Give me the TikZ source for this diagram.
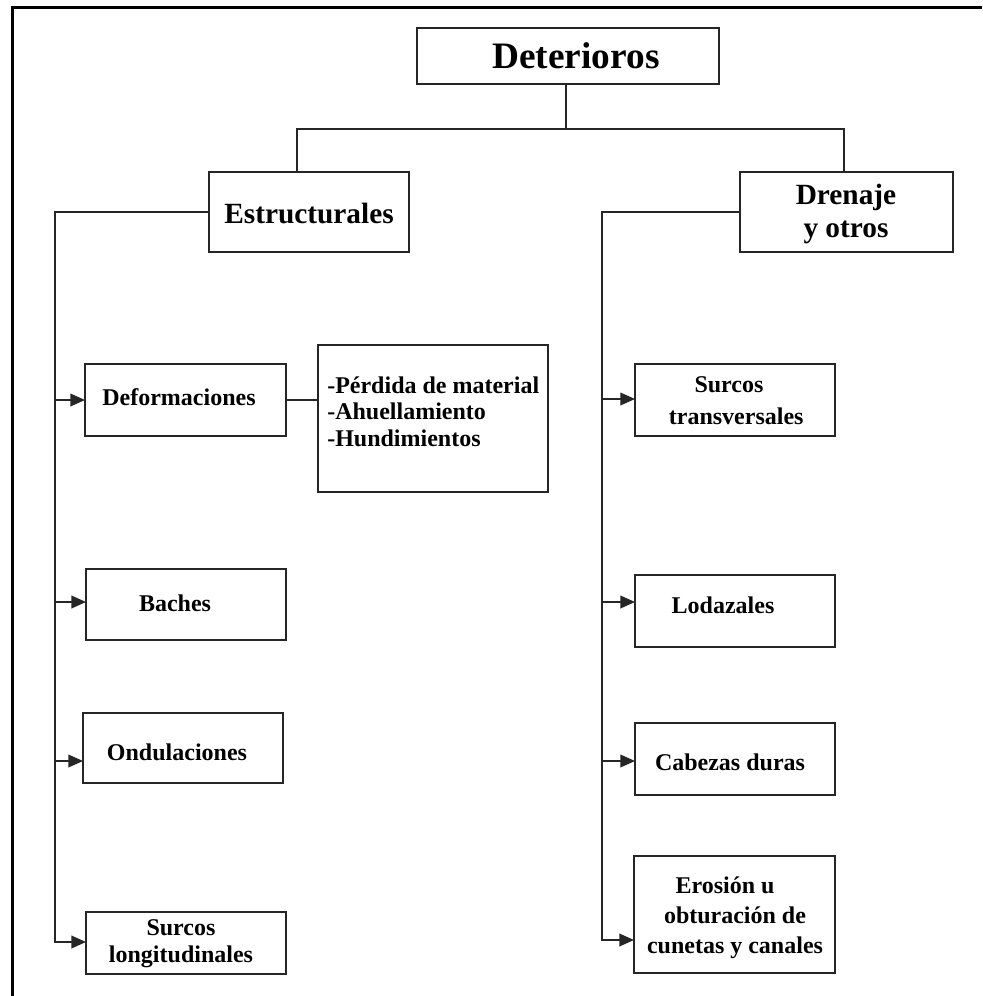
\documentclass[tikz,border=0pt]{standalone}
\usepackage{fontspec}
\setmainfont{Liberation Serif}
\usetikzlibrary{arrows.meta}
\tikzset{
  box/.style={draw=black!85,line width=1.3pt,inner sep=0pt,outer sep=0pt,fill=white},
  lbl/.style={font=\bfseries\fontsize{18}{20}\selectfont,inner sep=0pt,align=center},
  midlbl/.style={font=\bfseries\fontsize{22}{25}\selectfont,inner sep=0pt,align=center},
  toplbl/.style={font=\bfseries\fontsize{28}{32}\selectfont,inner sep=0pt},
  conn/.style={draw=black!85,line width=1.3pt},
  arr/.style={conn,-{Triangle[length=11pt,width=9.5pt]}},
  frame/.style={draw=black,line width=2.3pt}
}
\begin{document}
\begin{tikzpicture}[x=0.75pt,y=-0.75pt]
\useasboundingbox (0,0) rectangle (982,996);
\fill[white] (0,0) rectangle (982,996);
\draw[frame] (12.5,996) -- (12.5,7.5) -- (982,7.5);

% boxes
\node[box,minimum width=226.5pt,minimum height=42pt] (det) at (568,56) {};
\node[box,minimum width=150pt,minimum height=60pt] (estr) at (309,212) {};
\node[box,minimum width=159.75pt,minimum height=60pt] (drn) at (846.5,212) {};
\node[box,minimum width=150.75pt,minimum height=54pt] (deform) at (185.5,400) {};
\node[box,minimum width=172.5pt,minimum height=110.25pt] (list) at (433,418.5) {};
\node[box,minimum width=150pt,minimum height=53.25pt] (baches) at (186,604.5) {};
\node[box,minimum width=150pt,minimum height=52.5pt] (ond) at (183,748) {};
\node[box,minimum width=150pt,minimum height=46.5pt] (surl) at (186,943) {};
\node[box,minimum width=150pt,minimum height=54pt] (surt) at (735,400) {};
\node[box,minimum width=150pt,minimum height=54pt] (lod) at (735,611) {};
\node[box,minimum width=150pt,minimum height=54pt] (cab) at (735,759) {};
\node[box,minimum width=150.75pt,minimum height=87.75pt] (ero) at (734.5,914.5) {};

% texts
\node[toplbl] (det-t) at (576,56) {Deterioros};
\node[midlbl] (estr-t) at (309,213) {Estructurales};
\node[midlbl] (drn-t) at (846,214) {Drenaje\\y otros};
\node[lbl] (deform-t) at (179,397) {Deformaciones};
\node[lbl,align=left,anchor=west,font=\bfseries\fontsize{18}{19.9}\selectfont] (list-t) at (327,411.5) {-Pérdida de material\\-Ahuellamiento\\-Hundimientos};
\node[lbl] (baches-t) at (175,603) {Baches};
\node[lbl] (ond-t) at (177,752) {Ondulaciones};
\node[lbl,font=\bfseries\fontsize{18}{20.2}\selectfont] (surl-t) at (181,943.5) {Surcos\\longitudinales};
\node[lbl,font=\bfseries\fontsize{18}{24}\selectfont] (surt-t) at (729,401) {Surcos\\\hspace*{0.6em}transversales};
\node[lbl] (lod-t) at (723,605) {Lodazales};
\node[lbl] (cab-t) at (730,762) {Cabezas duras};
\node[lbl,font=\bfseries\fontsize{18}{22.5}\selectfont] (ero-t) at (735,918) {Erosión u\hspace*{0.83em}\\obturación de\hspace*{0.67em}\\cunetas y canales};

% top connectors
\coordinate (jl) at (297,129);
\coordinate (jr) at (844,129);
\draw[conn] (det.south -| 566,0) -- (566,129);
\draw[conn] (estr.north -| jl) -- (jl) -- (jr) -- (drn.north -| jr);

% left trunk
\coordinate (la1) at (55,400);
\coordinate (la2) at (55,602);
\coordinate (la3) at (55,761);
\coordinate (la4) at (55,942);
\draw[arr] (estr.west) -| (la4) -- (surl.west |- la4);
\draw[arr] (la1) -- (deform.west |- la1);
\draw[arr] (la2) -- (baches.west |- la2);
\draw[arr] (la3) -- (ond.west |- la3);
\draw[conn] (deform.east) -- (list.west |- deform.east);

% right trunk
\coordinate (ra1) at (602,399);
\coordinate (ra2) at (602,602);
\coordinate (ra3) at (602,761);
\coordinate (ra4) at (602,940);
\draw[arr] (drn.west) -| (ra4) -- (ero.west |- ra4);
\draw[arr] (ra1) -- (surt.west |- ra1);
\draw[arr] (ra2) -- (lod.west |- ra2);
\draw[arr] (ra3) -- (cab.west |- ra3);
\end{tikzpicture}
\end{document}
